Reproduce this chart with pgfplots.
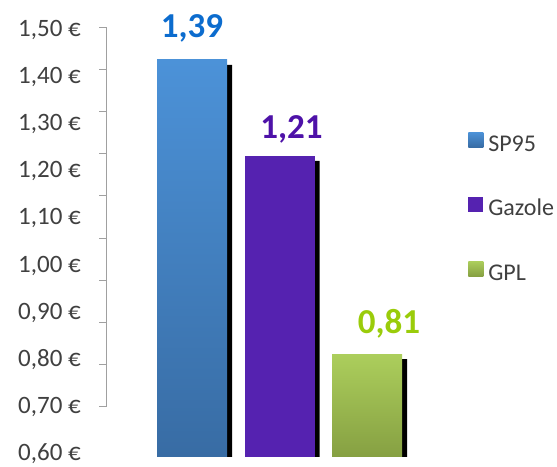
\documentclass[border=0pt]{standalone}
\usepackage{fontspec}
\setmainfont{Carlito}
\usepackage{pgfplots}
\pgfplotsset{compat=1.18}

\definecolor{spTop}{RGB}{76,146,216}
\definecolor{spBot}{RGB}{56,108,164}
\definecolor{gaz}{RGB}{85,34,176}
\definecolor{gplTop}{RGB}{172,206,92}
\definecolor{gplBot}{RGB}{134,160,66}
\definecolor{lblSP}{RGB}{12,108,206}
\definecolor{lblGaz}{RGB}{78,18,168}
\definecolor{lblGPL}{RGB}{154,204,10}
\definecolor{txt}{RGB}{64,64,64}
\definecolor{axisgray}{RGB}{160,160,160}

\pgfplotstableread{
x y m
0 1.4365 1.39
1 1.233 1.21
2 0.812 0.81
}\prices

\begin{document}
\begin{tikzpicture}
\useasboundingbox (0bp,0bp) rectangle (557bp,467bp);
% axis line with tick marks
\begin{axis}[
  at={(106bp,60bp)}, anchor=south west,
  scale only axis, width=20bp, height=380bp,
  xmin=0, xmax=1, ymin=0, ymax=9,
  ytick={0,1,2,3,4,5,6,7,8,9}, yticklabels={},
  hide x axis,
  axis y line=left,
  y axis line style={-, draw=axisgray, line width=1bp},
  ytick style={draw=axisgray, line width=1bp},
  tick align=outside, major tick length=7bp,
]
\end{axis}
% bars, value labels, tick labels, legend
\begin{axis}[
  at={(106bp,10bp)}, anchor=south west,
  scale only axis, width=304.75bp, height=474.1bp,
  xmin=-0.983, xmax=2.5, ymin=0.5936, ymax=1.6,
  ybar, bar width=70bp, bar shift=0pt,
  hide x axis,
  axis line style={draw=none},
  ytick={0.6,0.7,0.8,0.9,1.0,1.1,1.2,1.3,1.4,1.5},
  ytick style={draw=none}, major tick length=0pt,
  yticklabel={\pgfmathprintnumber[fixed,fixed zerofill,precision=2,use comma,assume math mode=true]{\tick}~€},
  yticklabel style={anchor=east, inner sep=0pt, xshift=-25bp, font=\fontsize{25bp}{30bp}\selectfont, text=txt},
  point meta=explicit,
  every node near coord/.append style={anchor=base, inner sep=0pt, font=\fontsize{35bp}{40bp}\selectfont\bfseries},
  legend style={at={(1.188,0.6855)}, anchor=north west, draw=none, fill=none, inner sep=0pt,
    row sep=40.5bp, column sep=5bp, font=\fontsize{24bp}{28bp}\selectfont, text=txt,
    nodes={inner sep=0pt, text height=17bp, text depth=5bp}},
  legend cell align=left,
  legend image code/.code={\path[#1, draw=none] (0bp,-2bp) rectangle (15bp,13bp);},
]
% shadows
\addplot[forget plot, draw=none, fill=black, xshift=5bp, yshift=-5bp]
  table[x=x, y=y] {\prices};
% bars
\addplot[forget plot, draw=none, top color=spTop, bottom color=spBot,
  nodes near coords={\pgfmathprintnumber[fixed,fixed zerofill,precision=2,use comma,assume math mode=true]{\pgfplotspointmeta}},
  every node near coord/.append style={text=lblSP, yshift=22bp}]
  table[x=x, y=y, meta=m, skip coords between index={1}{3}] {\prices};
\addplot[forget plot, draw=none, fill=gaz,
  nodes near coords={\pgfmathprintnumber[fixed,fixed zerofill,precision=2,use comma,assume math mode=true]{\pgfplotspointmeta}},
  every node near coord/.append style={text=lblGaz, xshift=12bp, yshift=17bp}]
  table[x=x, y=y, meta=m, skip coords between index={0}{1}, skip coords between index={2}{3}] {\prices};
\addplot[forget plot, draw=none, top color=gplTop, bottom color=gplBot,
  nodes near coords={\pgfmathprintnumber[fixed,fixed zerofill,precision=2,use comma,assume math mode=true]{\pgfplotspointmeta}},
  every node near coord/.append style={text=lblGPL, xshift=22bp, yshift=21bp}]
  table[x=x, y=y, meta=m, skip coords between index={0}{2}] {\prices};
\addlegendimage{top color=spTop, bottom color=spBot, draw=none}
\addlegendentry{SP95}
\addlegendimage{fill=gaz, draw=none}
\addlegendentry{Gazole}
\addlegendimage{top color=gplTop, bottom color=gplBot, draw=none}
\addlegendentry{GPL}
\end{axis}
\end{tikzpicture}
\end{document}
